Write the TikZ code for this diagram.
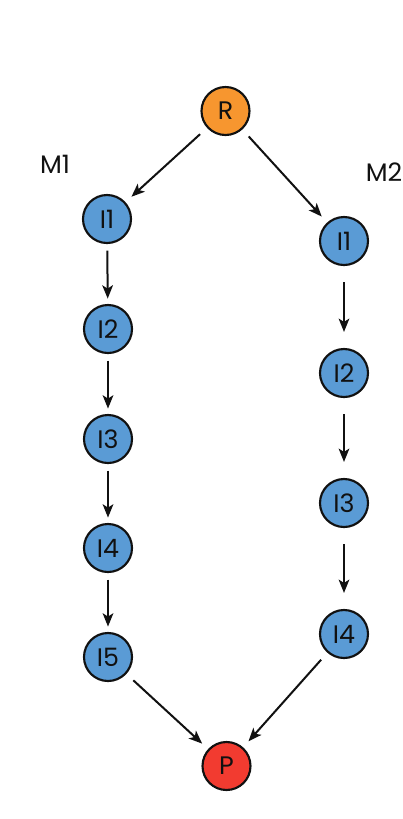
\documentclass[tikz,border=0pt]{standalone}
\usepackage{fontspec}
\setmainfont{Poppins}
\usetikzlibrary{arrows.meta}
\definecolor{nblue}{HTML}{5A9BD5}
\definecolor{norange}{HTML}{F7962F}
\definecolor{nred}{HTML}{F23B30}
\definecolor{nline}{HTML}{111111}
\tikzset{
  nd/.style={circle,draw=nline,line width=1.6pt,minimum size=36pt,inner sep=0pt,font=\fontsize{19}{19}\selectfont,text=nline},
  bnode/.style={nd,fill=nblue},
  lbl/.style={font=\fontsize{19}{19}\selectfont,text=nline},
  arr/.style={-{Stealth[length=10pt,width=8pt,inset=2.5pt]},line width=1.5pt,draw=nline},
}
\begin{document}
\begin{tikzpicture}[x=0.75pt,y=-0.75pt]
\useasboundingbox (0,0) rectangle (403,819);
\node[nd,fill=norange] (R) at (225.5,111) {R};
\node[lbl] (M1) at (55,164) {M1};
\node[lbl] (M2) at (384,172) {M2};
\node[bnode] (a1) at (107,219) {I1};
\node[bnode] (a2) at (108,329) {I2};
\node[bnode] (a3) at (108,439) {I3};
\node[bnode] (a4) at (108,548) {I4};
\node[bnode] (a5) at (108,657) {I5};
\node[bnode] (b1) at (344,241) {I1};
\node[bnode] (b2) at (344,373) {I2};
\node[bnode] (b3) at (344,503) {I3};
\node[bnode] (b4) at (344,634) {I4};
\node[nd,fill=nred] (P) at (226.5,766) {P};
\draw[arr,shorten <=7pt,shorten >=6pt] (R) -- (a1);
\draw[arr,shorten <=7pt,shorten >=6pt] (R) -- (b1);
\draw[arr,shorten <=5pt,shorten >=4pt] (a1) -- (a2);
\draw[arr,shorten <=5pt,shorten >=4pt] (a2) -- (a3);
\draw[arr,shorten <=5pt,shorten >=4pt] (a3) -- (a4);
\draw[arr,shorten <=5pt,shorten >=4pt] (a4) -- (a5);
\draw[arr,shorten <=12pt,shorten >=12pt] (b1) -- (b2);
\draw[arr,shorten <=12pt,shorten >=12pt] (b2) -- (b3);
\draw[arr,shorten <=12pt,shorten >=12pt] (b3) -- (b4);
\draw[arr,shorten <=7pt,shorten >=6pt] (a5) -- (P);
\draw[arr,shorten <=7pt,shorten >=6pt] (b4) -- (P);
\end{tikzpicture}
\end{document}
